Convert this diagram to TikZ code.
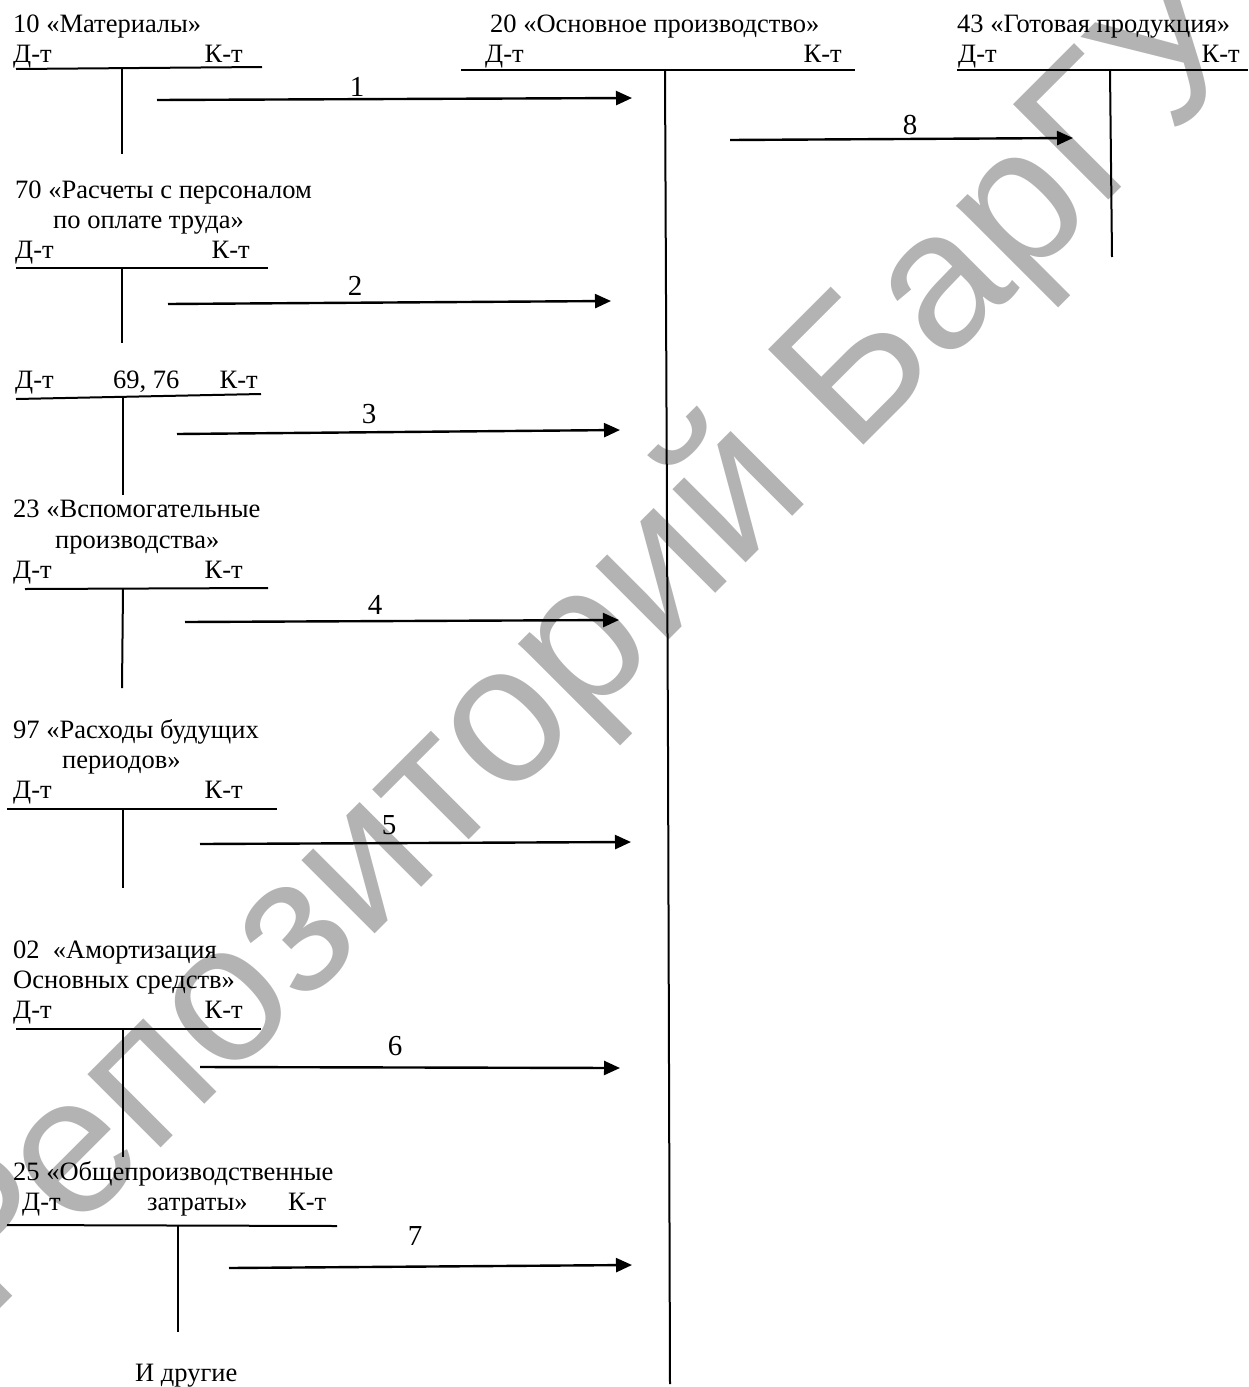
\documentclass[tikz,border=0pt]{standalone}
\usepackage{fontspec}
\setmainfont{Liberation Serif}
\newfontfamily\wmfont{Liberation Sans}
\usetikzlibrary{arrows.meta}
\definecolor{wmgray}{RGB}{179,179,179}
\begin{document}
\begin{tikzpicture}[x=1pt,y=-1pt,
  every node/.style={inner sep=0pt,font=\fontsize{26.5}{30}\selectfont},
  txt/.style={anchor=base west},
  txtr/.style={anchor=base east},
  lbl/.style={anchor=base,font=\fontsize{29}{32}\selectfont},
  tline/.style={line width=2pt},
  arr/.style={line width=2.4pt,-{Triangle[length=16pt,width=14pt]}}]
\useasboundingbox (0,0) rectangle (1248,1387);
\clip (0,0) rectangle (1248,1387);
% watermark
\node[anchor=base west,rotate=45,text=wmgray,font=\wmfont\fontsize{196}{200}\selectfont] (wm) at (-12,1321) {Репозиторий БарГУ};

% ---- 10
\node[txt] (t10) at (13,32) {10 «Материалы»};
\node[txt] (d10) at (13,62) {Д-т};
\node[txtr] (k10) at (243,62) {К-т};
\draw[tline] (16,69) -- (262,67);
\draw[tline] (122,69) -- (122,154);
% ---- 20
\node[txt] (t20) at (490,32) {20 «Основное производство»};
\node[txt] (d20) at (485,62) {Д-т};
\node[txtr] (k20) at (842,62) {К-т};
\draw[tline] (461,70) -- (855,70);
\draw[tline] (665,70) -- (668,748) -- (670,1384);
% ---- 43
\node[txt] (t43) at (957,32) {43 «Готовая продукция»};
\node[txt] (d43) at (958,62) {Д-т};
\node[txtr] (k43) at (1240,62) {К-т};
\draw[tline] (957,70) -- (1248,70);
\draw[tline] (1110,70) -- (1112,257);
% ---- 70
\node[txt] (t70a) at (15,198) {70 «Расчеты с персоналом};
\node[txt] (t70b) at (53,228) {по оплате труда»};
\node[txt] (d70) at (15,258) {Д-т};
\node[txtr] (k70) at (250,258) {К-т};
\draw[tline] (16,268) -- (268,268);
\draw[tline] (122,268) -- (122,343);
% ---- 69, 76
\node[txt] (d69) at (15,388) {Д-т};
\node[txt] (t69) at (113,388) {69, 76};
\node[txtr] (k69) at (258,388) {К-т};
\draw[tline] (16,399) -- (261,394);
\draw[tline] (123,397) -- (123,495);
% ---- 23
\node[txt] (t23a) at (13,517) {23 «Вспомогательные};
\node[txt] (t23b) at (55,548) {производства»};
\node[txt] (d23) at (13,578) {Д-т};
\node[txtr] (k23) at (243,578) {К-т};
\draw[tline] (25,589) -- (268,588);
\draw[tline] (123,589) -- (122,688);
% ---- 97
\node[txt] (t97a) at (13,738) {97 «Расходы будущих};
\node[txt] (t97b) at (62,768) {периодов»};
\node[txt] (d97) at (13,798) {Д-т};
\node[txtr] (k97) at (243,798) {К-т};
\draw[tline] (7,809) -- (277,809);
\draw[tline] (123,809) -- (123,888);
% ---- 02
\node[txt] (t02a) at (13,958) {02\ \ «Амортизация};
\node[txt] (t02b) at (13,988) {Основных средств»};
\node[txt] (d02) at (13,1018) {Д-т};
\node[txtr] (k02) at (243,1018) {К-т};
\draw[tline] (16,1029) -- (261,1029);
\draw[tline] (123,1029) -- (123,1157);
% ---- 25
\node[txt] (t25) at (13,1180) {25 «Общепроизводственные};
\node[txt] (d25) at (22,1210) {Д-т};
\node[txt] (z25) at (147,1210) {затраты»};
\node[txt] (k25) at (288,1210) {К-т};
\draw[tline] (7,1225) -- (337,1226);
\draw[tline] (178,1225) -- (178,1332);
\node[txt] (oth) at (135,1381) {И другие};

% ---- arrows
\coordinate (a1s) at (157,100); \coordinate (a1e) at (632,98);
\coordinate (a2s) at (168,304); \coordinate (a2e) at (611,301);
\coordinate (a3s) at (177,434); \coordinate (a3e) at (620,430);
\coordinate (a4s) at (185,622); \coordinate (a4e) at (619,620);
\coordinate (a5s) at (200,844); \coordinate (a5e) at (631,842);
\coordinate (a6s) at (200,1067); \coordinate (a6e) at (620,1068);
\coordinate (a7s) at (229,1268); \coordinate (a7e) at (632,1265);
\coordinate (a8s) at (730,140); \coordinate (a8e) at (1073,138);
\draw[arr] (a1s) -- (a1e);
\draw[arr] (a2s) -- (a2e);
\draw[arr] (a3s) -- (a3e);
\draw[arr] (a4s) -- (a4e);
\draw[arr] (a5s) -- (a5e);
\draw[arr] (a6s) -- (a6e);
\draw[arr] (a7s) -- (a7e);
\draw[arr] (a8s) -- (a8e);
\node[lbl] (l1) at (357,96) {1};
\node[lbl] (l2) at (355,295) {2};
\node[lbl] (l3) at (369,423) {3};
\node[lbl] (l4) at (375,614) {4};
\node[lbl] (l5) at (389,834) {5};
\node[lbl] (l6) at (395,1055) {6};
\node[lbl] (l7) at (415,1245) {7};
\node[lbl] (l8) at (910,134) {8};
\end{tikzpicture}
\end{document}
